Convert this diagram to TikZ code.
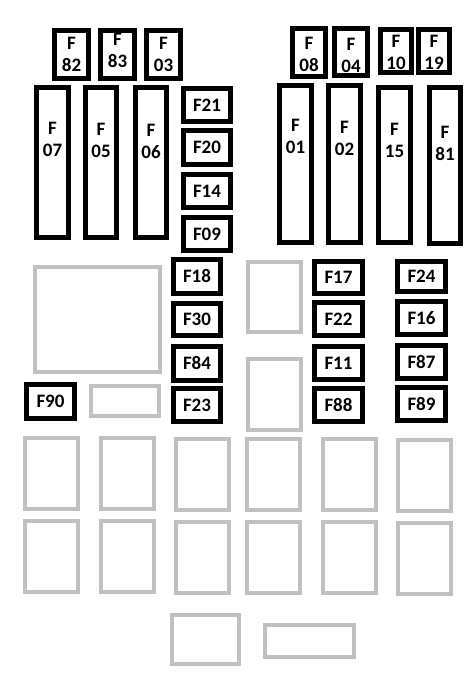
\documentclass[tikz,border=0pt]{standalone}
\usepackage{fontspec}
\setmainfont{Carlito}
\newcommand{\fusebox}[6]{%
  \node[fuse, minimum width={#4-#2-5.2}, minimum height={#5-#3-5.2}] (#1) at ({(#2+#4)/2},{(#3+#5)/2}) {#6};}
\newcommand{\fusetall}[7]{%
  \node[fuse, minimum width={#4-#2-5.2}, minimum height={#5-#3-5.2}] (#1) at ({(#2+#4)/2},{(#3+#5)/2}) {};
  \node[lbl] (#1t) at ({(#2+#4)/2},#6) {F\\#7};}
\newcommand{\slotbox}[5]{%
  \node[slot, minimum width={#4-#2-4.4}, minimum height={#5-#3-4.4}] (#1) at ({(#2+#4)/2},{(#3+#5)/2}) {};}
\definecolor{slotgray}{RGB}{192,192,192}
\tikzset{
  fuse/.style={draw=black, line width=5.2pt, inner sep=0pt, font=\fontsize{19}{22}\selectfont\bfseries, align=center},
  lbl/.style={inner sep=0pt, font=\fontsize{19}{22}\selectfont\bfseries, align=center},
  slot/.style={draw=slotgray, line width=4.4pt, inner sep=0pt}
}
\begin{document}
\begin{tikzpicture}[x=1pt,y=-1pt]
\useasboundingbox[fill=white] (0,0) rectangle (476,680);
% top small fuses
\fusetall{F82}{52}{28}{91}{81}{54.5}{82}
\fusetall{F83}{98}{28}{137}{81}{50.5}{83}
\fusetall{F03}{144}{28}{183}{81}{54.5}{03}
\fusetall{F08}{290}{26}{328}{79}{54.5}{08}
\fusetall{F04}{332}{26}{370}{78}{55.5}{04}
\fusetall{F10}{378}{27}{414}{75}{52.5}{10}
\fusetall{F19}{416}{27}{452}{75}{52.5}{19}
% tall fuses
\fusetall{F07}{34}{85}{71}{240}{139.5}{07}
\fusetall{F05}{83}{85}{119}{240}{140}{05}
\fusetall{F06}{133}{85}{169}{240}{141.5}{06}
\fusetall{F01}{277}{83}{314}{245}{136.5}{01}
\fusetall{F02}{326}{83}{363}{245}{138.5}{02}
\fusetall{F15}{376}{85}{413}{245}{140.5}{15}
\fusetall{F81}{427}{85}{463}{246}{143.5}{81}
% column of small fuses
\fusebox{F21}{181}{86}{233}{124}{F21}
\fusebox{F20}{181}{128}{233}{167}{F20}
\fusebox{F14}{181}{172}{233}{210}{F14}
\fusebox{F09}{181}{215}{233}{253}{F09}
\fusebox{F18}{171}{257}{223}{296}{F18}
\fusebox{F30}{171}{301}{223}{338}{F30}
\fusebox{F84}{171}{344}{223}{383}{F84}
\fusebox{F23}{171}{386}{223}{424}{F23}
\fusebox{F90}{24}{382}{77}{421}{F90}
\fusebox{F17}{312}{259}{365}{296}{F17}
\fusebox{F22}{312}{300}{365}{338}{F22}
\fusebox{F11}{312}{344}{365}{382}{F11}
\fusebox{F88}{312}{386}{365}{424}{F88}
\fusebox{F24}{395}{259}{448}{294}{F24}
\fusebox{F16}{395}{299}{448}{337}{F16}
\fusebox{F87}{395}{343}{448}{381}{F87}
\fusebox{F89}{395}{385}{448}{423}{F89}
% gray slots
\slotbox{g1}{33}{265}{162}{374}
\slotbox{g2}{89}{384}{161}{418}
\slotbox{g3}{246}{260}{303}{334}
\slotbox{g4}{246}{357}{303}{432}
\slotbox{r1a}{23}{436}{80}{511}
\slotbox{r1b}{99}{436}{156}{511}
\slotbox{r1c}{174}{437}{231}{512}
\slotbox{r1d}{245}{437}{302}{512}
\slotbox{r1e}{321}{437}{378}{512}
\slotbox{r1f}{396}{438}{453}{513}
\slotbox{r2a}{23}{519}{80}{594}
\slotbox{r2b}{99}{519}{156}{594}
\slotbox{r2c}{174}{520}{231}{595}
\slotbox{r2d}{245}{520}{302}{595}
\slotbox{r2e}{321}{520}{378}{595}
\slotbox{r2f}{396}{521}{453}{596}
\slotbox{b1}{170}{613}{241}{666}
\slotbox{b2}{263}{623}{356}{659}
\end{tikzpicture}
\end{document}
